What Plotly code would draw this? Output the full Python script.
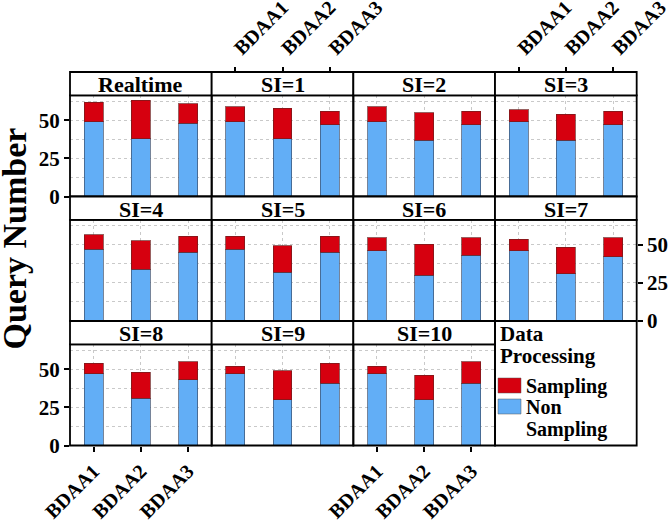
import plotly.graph_objects as go

# ---------------- data ----------------
panels = ["Realtime", "SI=1", "SI=2", "SI=3", "SI=4", "SI=5",
          "SI=6", "SI=7", "SI=8", "SI=9", "SI=10"]
categories = ["BDAA1", "BDAA2", "BDAA3"]
non_sampling = [
    [49, 38, 48],   # Realtime
    [49, 38, 47],   # SI=1
    [49, 37, 47],   # SI=2
    [49, 37, 47],   # SI=3
    [47, 34, 45],   # SI=4
    [47, 32, 45],   # SI=5
    [46, 30, 43],   # SI=6
    [46, 31, 42],   # SI=7
    [47, 31, 43],   # SI=8
    [47, 30, 41],   # SI=9
    [47, 30, 41],   # SI=10
]
sampling = [
    [13, 25, 13],
    [10, 20, 9],
    [10, 18, 9],
    [8, 17, 9],
    [9.5, 18.5, 10.5],
    [8.5, 17.5, 10.5],
    [8.5, 20.5, 11.5],
    [7.5, 17.5, 12.5],
    [7, 17, 12],
    [5, 19, 13],
    [5, 16, 14],
]
y_ticks = [0, 25, 50]
legend_title = ["Data", "Processing"]
legend_labels = [["Sampling"], ["Non", "Sampling"]]

# ---------------- styling / geometry ----------------
W, H = 672, 521
FONT = "Liberation Serif, Times New Roman, serif"
BLUE = "#62AEF6"
RED = "#D6000F"
GRID = "#c9c9c9"

def fx(x):
    return x / W

def fy(y):
    return 1 - y / H

COL_X0 = 70.0
COL_W = 141.67
ROW_Y0 = 72.0
ROW_H = 124.5
STRIP_H = 23.3

fig = go.Figure()
layout_axes = {}
shapes = []
annotations = []

xtickfont = dict(family=FONT, size=20, color="black", weight="bold")
ytickfont = dict(family=FONT, size=21, color="black", weight="bold")

for i, name in enumerate(panels):
    r, c = divmod(i, 4)
    x0 = COL_X0 + COL_W * c
    x1 = x0 + COL_W
    s_top = ROW_Y0 + ROW_H * r
    p_top = s_top + STRIP_H
    p_bot = s_top + ROW_H
    n = "" if i == 0 else str(i + 1)

    fig.add_trace(go.Bar(
        x=categories, y=non_sampling[i], name="Non Sampling",
        marker=dict(color=BLUE, line=dict(color="rgba(60,80,110,0.7)", width=1)),
        width=0.4, xaxis="x" + n, yaxis="y" + n, showlegend=False))
    fig.add_trace(go.Bar(
        x=categories, y=sampling[i], name="Sampling",
        marker=dict(color=RED, line=dict(color="rgba(110,30,30,0.7)", width=1)),
        width=0.4, xaxis="x" + n, yaxis="y" + n, showlegend=False))

    xa = dict(domain=[fx(x0), fx(x1)], anchor="y" + n, automargin=False,
              range=[-0.5, 2.5], type="category",
              showgrid=True, gridcolor=GRID, griddash="dot", gridwidth=1,
              showline=False, zeroline=False,
              showticklabels=False, ticks="", tickangle=-45,
              tickfont=xtickfont)
    if i in (1, 3):
        xa.update(side="top", anchor="free", position=fy(s_top),
                  showticklabels=True, ticks="outside", ticklen=5,
                  tickwidth=1.5, tickcolor="black")
    if i in (8, 10):
        xa.update(side="bottom", showticklabels=True, ticks="outside",
                  ticklen=5, tickwidth=1.5, tickcolor="black")

    ya = dict(domain=[fy(p_bot), fy(p_top)], anchor="x" + n, automargin=False,
              range=[0, 66.4], tickvals=y_ticks,
              showgrid=True, gridcolor=GRID, griddash="dot", gridwidth=1,
              minor=dict(dtick=12.5, tick0=0, showgrid=True, gridcolor=GRID,
                         griddash="dot", gridwidth=1, ticks=""),
              showline=False, zeroline=False,
              showticklabels=False, ticks="", tickfont=ytickfont)
    if i in (0, 8):
        ya.update(side="left", showticklabels=True, ticks="outside",
                  ticklen=5, tickwidth=1.5, tickcolor="black")
    if i == 7:
        ya.update(side="right", showticklabels=True, ticks="outside",
                  ticklen=5, tickwidth=1.5, tickcolor="black")

    layout_axes["xaxis" + n] = xa
    layout_axes["yaxis" + n] = ya

    # panel border
    shapes.append(dict(type="rect", xref="paper", yref="paper",
                       x0=fx(x0), x1=fx(x1), y0=fy(p_bot), y1=fy(p_top),
                       line=dict(color="black", width=1.8), layer="above"))
    # strip
    shapes.append(dict(type="rect", xref="paper", yref="paper",
                       x0=fx(x0), x1=fx(x1), y0=fy(p_top), y1=fy(s_top),
                       fillcolor="white",
                       line=dict(color="black", width=1.8), layer="above"))
    annotations.append(dict(text=name, xref="paper", yref="paper",
                            x=fx((x0 + x1) / 2), y=fy((s_top + p_top) / 2 + 1),
                            xanchor="center", yanchor="middle", showarrow=False,
                            font=dict(family=FONT, size=22, color="black",
                                      weight="bold")))

# ---------------- legend (empty 12th slot) ----------------
lx0 = COL_X0 + COL_W * 3
lx1 = lx0 + COL_W
ly0 = ROW_Y0 + ROW_H * 2
ly1 = ly0 + ROW_H
shapes.append(dict(type="rect", xref="paper", yref="paper",
                   x0=fx(lx0), x1=fx(lx1), y0=fy(ly1), y1=fy(ly0),
                   line=dict(color="black", width=1.8), layer="above"))
legfont = dict(family=FONT, size=20, color="black", weight="bold")
for k, t in enumerate(legend_title):
    annotations.append(dict(text=t, xref="paper", yref="paper",
                            x=fx(lx0 + 3), y=fy(ly0 + 13 + 22 * k),
                            xanchor="left", yanchor="middle", showarrow=False,
                            font=dict(family=FONT, size=21, color="black",
                                      weight="bold")))
key_tops = [ly0 + 57, ly0 + 78]
for k, (labels, col) in enumerate(zip(legend_labels, [RED, BLUE])):
    kt = key_tops[k]
    shapes.append(dict(type="rect", xref="paper", yref="paper",
                       x0=fx(lx0 + 3), x1=fx(lx0 + 26), y0=fy(kt + 15), y1=fy(kt),
                       fillcolor=col, line=dict(color="rgba(80,80,80,0.6)", width=0.8),
                       layer="above"))
    for j, t in enumerate(labels):
        annotations.append(dict(text=t, xref="paper", yref="paper",
                                x=fx(lx0 + 29), y=fy(kt + 8 + 22 * j),
                                xanchor="left", yanchor="middle", showarrow=False,
                                font=legfont))

annotations.append(dict(text="Query Number", xref="paper", yref="paper",
                        x=fx(14), y=fy(238.5), textangle=-90,
                        xanchor="center", yanchor="middle", showarrow=False,
                        font=dict(family=FONT, size=34, color="black",
                                  weight="bold")))

fig.update_layout(
    width=W, height=H,
    margin=dict(l=0, r=0, t=0, b=0),
    paper_bgcolor="white", plot_bgcolor="white",
    barmode="stack",
    showlegend=False,
    shapes=shapes,
    annotations=annotations,
    **layout_axes,
)

fig.write_html("out.html",
               config={"displayModeBar": False},
               post_script="document.body.style.margin='0px';"
                           "document.body.style.overflow='hidden';")
